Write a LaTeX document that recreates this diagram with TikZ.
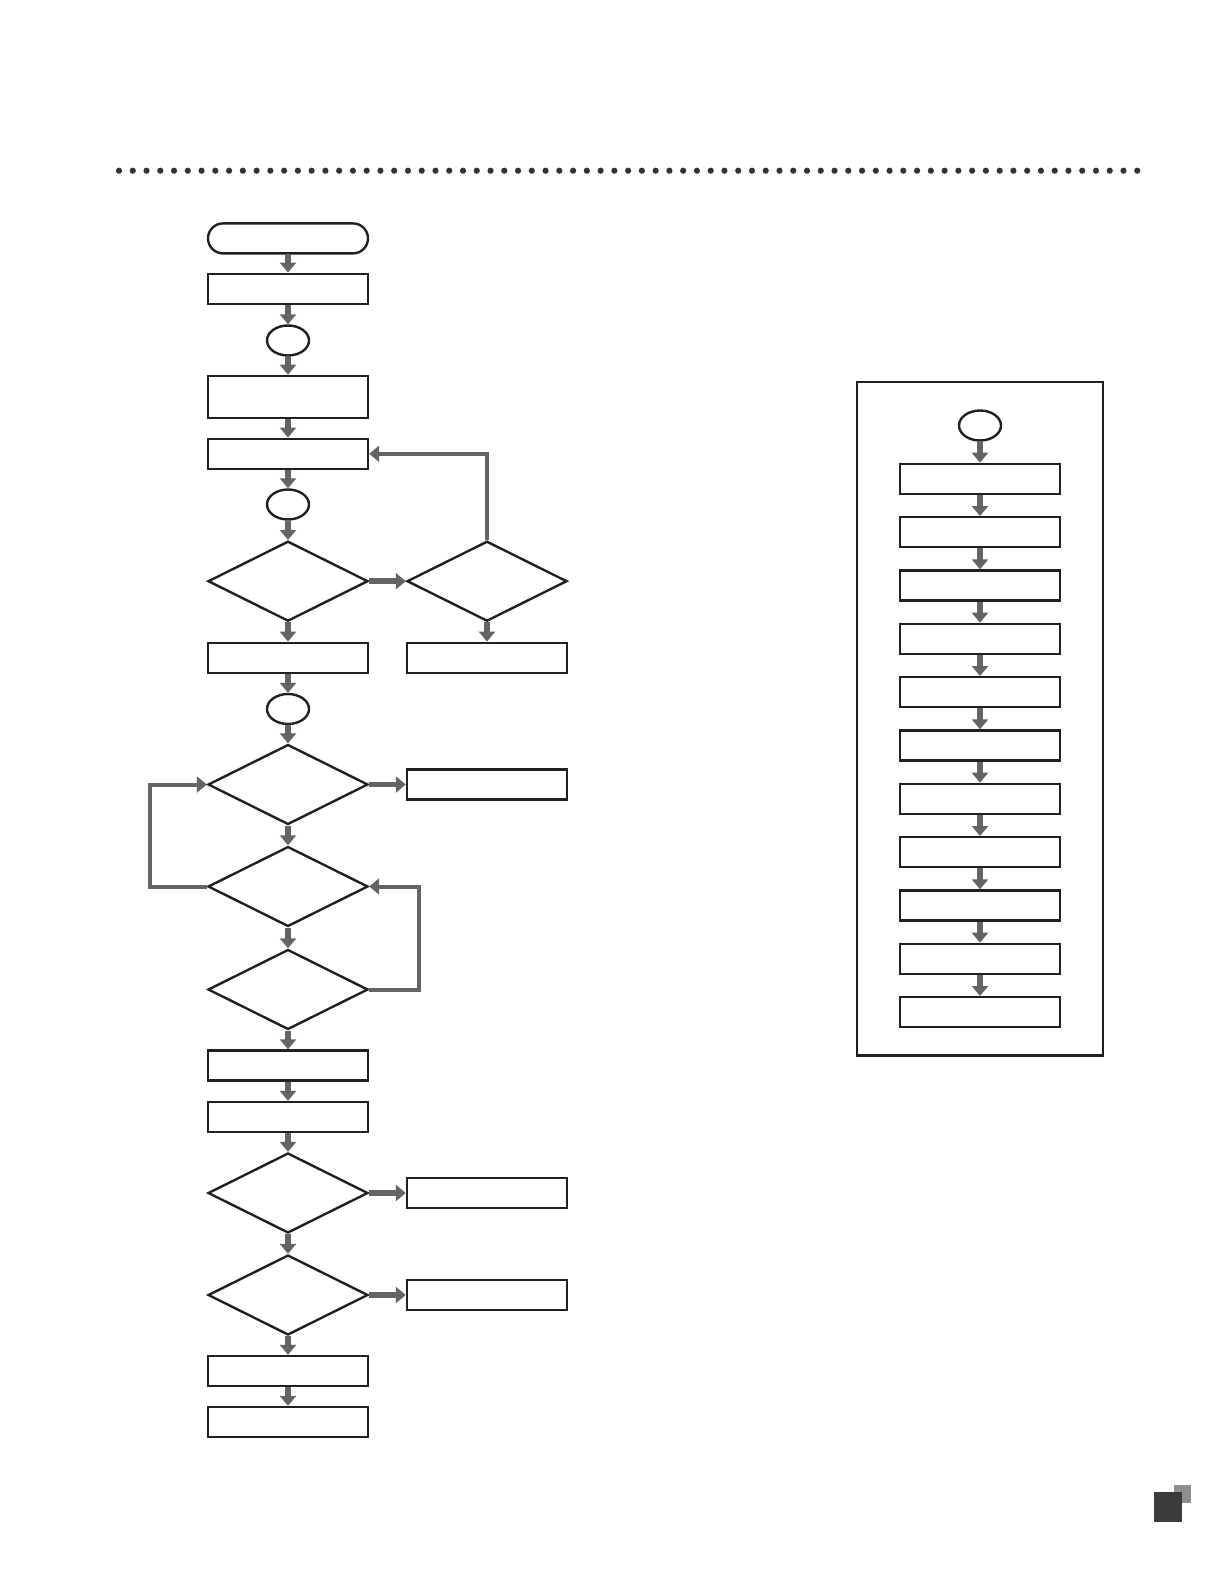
\documentclass[tikz,border=0pt]{standalone}
\usetikzlibrary{arrows.meta,shapes.geometric}
\definecolor{inkblack}{HTML}{231F20}
\definecolor{arrowgray}{HTML}{646464}
\definecolor{dotdark}{HTML}{333333}
\definecolor{sqdark}{HTML}{3B3B3B}
\definecolor{sqgray}{HTML}{8F8F8F}
\tikzset{
  every node/.style={inner sep=0pt, draw=inkblack, line width=2.4pt, fill=white},
  procbox/.style={rectangle, minimum width=160pt, minimum height=30pt},
  tallbox/.style={rectangle, minimum width=160pt, minimum height=42pt},
  termbox/.style={rectangle, rounded corners=15pt, minimum width=160pt, minimum height=30pt},
  connector/.style={ellipse, minimum width=42pt, minimum height=30pt},
  decision/.style={diamond, minimum width=160pt, minimum height=80pt},
  framebox/.style={rectangle, minimum width=246.5pt, minimum height=673.5pt, fill=none},
  flow/.style={draw=arrowgray, line width=5.5pt, -{Triangle[width=16pt,length=10pt]}},
  loopflow/.style={draw=arrowgray, line width=4pt, -{Triangle[width=16pt,length=10pt]}},
}
\begin{document}
\begin{tikzpicture}[x=1pt, y=-1pt]
\useasboundingbox[fill=white] (0,0) rectangle (1224,1584);
% dotted rule
\foreach \i in {0,...,74} \fill[dotdark] (119+\i*13.76,170.7) circle (3.1);
% corner mark
\fill[sqgray] (1174,1485.3) rectangle (1190.7,1502.7);
\fill[sqdark] (1154,1492) rectangle (1182,1522);

% main column
\node[termbox] (term) at (288,238.4) {};
\node[procbox] (b1) at (288,288.8) {};
\node[connector] (c1) at (288,340.5) {};
\node[tallbox] (b2) at (288,396.9) {};
\node[procbox] (b3) at (288,453.8) {};
\node[connector] (c2) at (288,504.5) {};
\node[decision] (d1) at (288,581.2) {};
\node[decision] (dR) at (487,581.2) {};
\node[procbox] (b4) at (288,657.8) {};
\node[procbox] (b4R) at (487,657.8) {};
\node[connector] (c3) at (288,709) {};
\node[decision] (d2) at (288,784.5) {};
\node[procbox] (bR2) at (487,784.5) {};
\node[decision] (d3) at (288,886.5) {};
\node[decision] (d4) at (288,989.5) {};
\node[procbox] (b5) at (288,1065.5) {};
\node[procbox] (b6) at (288,1117) {};
\node[decision] (d5) at (288,1193) {};
\node[procbox] (bR5) at (487,1193) {};
\node[decision] (d6) at (288,1295) {};
\node[procbox] (bR6) at (487,1295) {};
\node[procbox] (b7) at (288,1371) {};
\node[procbox] (b8) at (288,1422) {};

\draw[flow] (term) -- (b1);
\draw[flow] (b1) -- (c1);
\draw[flow] (c1) -- (b2);
\draw[flow] (b2) -- (b3);
\draw[flow] (b3) -- (c2);
\draw[flow] (c2) -- (d1);
\draw[flow] (d1) -- (dR);
\draw[loopflow] (dR.north) |- (b3.east);
\draw[flow] (d1) -- (b4);
\draw[flow] (dR) -- (b4R);
\draw[flow] (b4) -- (c3);
\draw[flow] (c3) -- (d2);
\draw[flow] (d2) -- (bR2);
\draw[flow] (d2) -- (d3);
\draw[loopflow] (d3.west) -- ++(-57,0) |- (d2.west);
\draw[flow] (d3) -- (d4);
\draw[loopflow] (d4.east) -- ++(50,0) |- (d3.east);
\draw[flow] (d4) -- (b5);
\draw[flow] (b5) -- (b6);
\draw[flow] (b6) -- (d5);
\draw[flow] (d5) -- (bR5);
\draw[flow] (d5) -- (d6);
\draw[flow] (d6) -- (bR6);
\draw[flow] (d6) -- (b7);
\draw[flow] (b7) -- (b8);

% right panel
\node[framebox] (frame) at (980,718.85) {};
\node[connector] (rc) at (980,425.5) {};
\foreach \k in {0,...,10} \node[procbox] (r\k) at (980,478.9+\k*53.33) {};
\draw[flow] (rc) -- (r0);
\foreach \k [count=\n from 1] in {0,...,9} \draw[flow] (r\k) -- (r\n);
\end{tikzpicture}
\end{document}
